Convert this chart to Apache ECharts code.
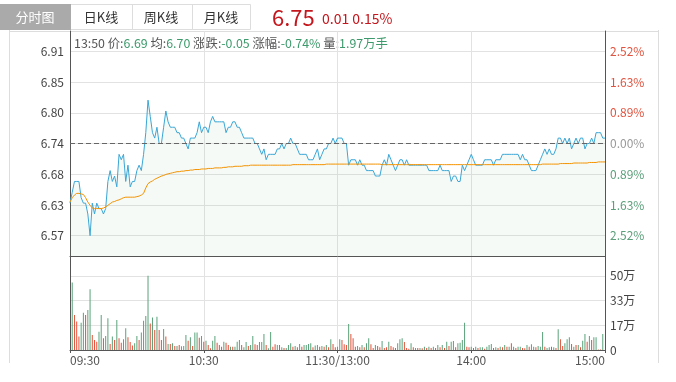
<!DOCTYPE html>
<html><head><meta charset="utf-8">
<script src="https://cdn.jsdelivr.net/npm/echarts@6/dist/echarts.min.js"></script>
<style>html,body{margin:0;padding:0;background:#fff;}#c{width:676px;height:382px;}</style>
</head><body><div id="c"></div>
<script>
const preClose = 6.74;
const tabs = ['分时图', '日K线', '周K线', '月K线'];
const timeLabels = ['09:30', '10:30', '11:30/13:00', '14:00', '15:00'];
const priceTickLabels = ['6.57', '6.63', '6.68', '6.74', '6.80', '6.85', '6.91'];
const pctTickLabels = ['2.52%', '1.63%', '0.89%', '0.00%', '0.89%', '1.63%', '2.52%'];
const priceTickStep = 0.17 / 3;
const priceHalfRange = 0.2075;
const volTickValues = [0, 16.63, 33.27, 49.9];
const volTickLabels = ['0', '17万', '33万', '50万'];
const volAxisMax = 63.2;
const infoIndex = 170, infoTime = '13:50', infoVolume = '1.97万手';

const price = [
6.63,6.65,6.67,6.67,6.67,6.64,6.63,6.63,6.61,6.57,
6.63,6.61,6.63,6.62,6.62,6.61,6.62,6.67,6.69,6.67,
6.68,6.66,6.72,6.71,6.72,6.67,6.70,6.66,6.67,6.67,
6.69,6.70,6.69,6.72,6.76,6.82,6.79,6.76,6.75,6.77,
6.74,6.74,6.77,6.80,6.78,6.77,6.77,6.77,6.76,6.76,
6.75,6.75,6.74,6.73,6.75,6.75,6.75,6.76,6.78,6.76,
6.77,6.77,6.76,6.78,6.79,6.78,6.78,6.78,6.78,6.78,
6.76,6.77,6.77,6.78,6.78,6.77,6.77,6.76,6.75,6.75,
6.75,6.75,6.75,6.74,6.74,6.73,6.72,6.73,6.71,6.72,
6.72,6.72,6.72,6.73,6.73,6.74,6.73,6.74,6.74,6.75,
6.74,6.74,6.73,6.72,6.72,6.72,6.72,6.71,6.71,6.71,
6.72,6.73,6.71,6.72,6.73,6.73,6.74,6.74,6.75,6.74,
6.75,6.75,6.75,6.74,6.74,6.70,6.71,6.71,6.71,6.70,
6.71,6.70,6.70,6.69,6.69,6.69,6.69,6.68,6.68,6.68,
6.70,6.71,6.70,6.72,6.71,6.70,6.69,6.70,6.71,6.71,
6.70,6.71,6.70,6.70,6.70,6.70,6.70,6.70,6.70,6.70,
6.70,6.69,6.69,6.69,6.69,6.69,6.70,6.69,6.69,6.69,
6.69,6.67,6.68,6.68,6.67,6.67,6.70,6.69,6.70,6.71,
6.72,6.71,6.70,6.70,6.70,6.70,6.71,6.71,6.71,6.71,
6.70,6.71,6.71,6.71,6.72,6.72,6.72,6.72,6.72,6.72,
6.72,6.72,6.71,6.72,6.71,6.71,6.70,6.69,6.69,6.69,
6.70,6.71,6.72,6.73,6.72,6.73,6.72,6.72,6.73,6.75,
6.75,6.74,6.75,6.74,6.75,6.73,6.74,6.75,6.74,6.75,
6.75,6.73,6.74,6.74,6.75,6.74,6.76,6.76,6.76,6.75,
6.75];

const avg = [
6.632,6.640,6.645,6.648,6.648,6.647,6.646,6.640,6.632,6.626,
6.621,6.620,6.620,6.620,6.620,6.621,6.623,6.626,6.629,6.632,
6.633,6.635,6.636,6.638,6.640,6.641,6.641,6.641,6.641,6.641,
6.642,6.643,6.645,6.648,6.658,6.666,6.669,6.671,6.674,6.676,
6.678,6.680,6.681,6.683,6.684,6.685,6.686,6.687,6.688,6.688,
6.689,6.689,6.690,6.690,6.691,6.691,6.692,6.692,6.692,6.693,
6.693,6.693,6.694,6.694,6.694,6.695,6.695,6.695,6.695,6.696,
6.696,6.697,6.697,6.697,6.698,6.698,6.698,6.698,6.699,6.699,
6.699,6.700,6.700,6.700,6.700,6.700,6.700,6.700,6.700,6.700,
6.700,6.700,6.700,6.700,6.700,6.700,6.700,6.700,6.700,6.700,
6.701,6.701,6.701,6.701,6.701,6.701,6.701,6.701,6.701,6.701,
6.701,6.701,6.701,6.701,6.701,6.702,6.702,6.702,6.702,6.702,
6.702,6.702,6.702,6.702,6.702,6.702,6.702,6.702,6.702,6.702,
6.702,6.702,6.702,6.702,6.702,6.702,6.702,6.702,6.702,6.702,
6.701,6.701,6.701,6.701,6.701,6.701,6.701,6.701,6.701,6.701,
6.701,6.701,6.701,6.701,6.701,6.701,6.701,6.701,6.701,6.701,
6.701,6.701,6.701,6.701,6.701,6.701,6.701,6.701,6.701,6.701,
6.701,6.701,6.701,6.701,6.701,6.701,6.701,6.701,6.701,6.701,
6.701,6.701,6.701,6.701,6.701,6.701,6.701,6.701,6.701,6.701,
6.701,6.701,6.701,6.701,6.701,6.701,6.701,6.701,6.701,6.701,
6.701,6.701,6.701,6.701,6.701,6.701,6.701,6.701,6.701,6.701,
6.701,6.701,6.702,6.702,6.702,6.702,6.702,6.702,6.702,6.702,
6.703,6.703,6.703,6.703,6.703,6.703,6.704,6.704,6.704,6.704,
6.704,6.704,6.704,6.705,6.705,6.705,6.705,6.706,6.706,6.706,
6.706];

const volume = [
0,45.3,23.6,19.1,9.0,18.4,25.1,23.6,26.9,40.8,
10.1,6.7,5.6,12.3,23.6,7.9,9.4,21.3,4.0,9.0,
6.7,20.2,7.9,4.9,7.2,14.6,8.5,5.4,3.1,4.5,
9.4,6.7,11.7,19.7,22.9,49.9,17.9,21.8,13.5,22.4,
13.5,6.7,14.1,9.0,4.0,4.0,4.5,2.7,2.7,3.4,
2.5,2.7,10.1,6.3,8.5,2.7,11.7,11.7,8.3,9.4,
5.6,6.3,3.4,1.1,6.3,9.4,4.9,3.4,2.2,5.6,
4.9,3.4,2.2,2.2,2.2,5.6,6.7,3.4,1.8,5.4,
2.7,3.4,9.4,3.8,3.4,5.4,5.4,10.8,3.4,1.1,
12.1,2.2,3.8,3.4,3.4,1.8,1.3,1.3,3.4,4.5,
2.2,2.7,1.8,4.0,2.2,3.4,3.4,4.0,4.5,1.8,
3.1,3.4,2.2,2.7,2.2,3.4,1.8,7.2,4.0,1.8,
2.2,7.2,6.7,3.8,3.4,17.5,10.8,7.9,2.2,2.7,
1.8,3.4,1.8,4.5,7.9,3.8,1.3,3.4,2.7,1.8,
6.1,1.3,1.8,5.6,2.7,1.8,1.3,4.5,7.2,7.9,
5.4,1.3,0.9,4.5,1.8,1.3,1.3,1.3,1.1,2.2,
1.3,2.2,1.3,2.2,1.3,3.4,1.8,3.4,1.3,5.6,
2.7,5.6,6.1,1.8,4.5,4.9,6.7,18.4,2.2,1.8,
2.2,1.3,2.2,1.3,1.8,1.8,0.9,2.2,3.4,4.0,
1.3,1.8,1.3,2.2,1.8,3.4,2.2,2.2,4.5,2.2,
1.3,2.2,2.2,1.3,1.1,3.4,2.2,3.8,2.2,1.8,
2.7,2.2,12.1,2.2,1.3,1.8,2.2,1.8,1.3,13.9,
7.2,2.7,4.5,7.2,8.5,4.0,2.2,3.4,3.4,1.8,
6.3,10.8,5.6,9.4,6.7,8.5,8.5,0.4,0.4,10.8,
0];

// 1 = red (up) bar, 0 = green (down) bar
const volUp = [
0,0,1,1,1,0,0,1,0,0,
1,1,1,0,0,1,0,0,1,0,
1,0,1,1,0,0,1,1,1,0,
0,1,0,0,0,0,1,0,1,0,
1,1,0,1,0,1,0,1,0,1,
0,0,0,1,0,1,0,0,1,0,
1,0,1,1,0,0,1,1,1,0,
1,1,0,1,0,0,0,1,0,0,
1,0,0,1,1,0,0,0,1,0,
0,1,1,0,1,0,1,0,0,0,
1,0,1,0,1,0,0,0,0,1,
0,0,1,0,1,0,1,0,1,1,
0,0,1,1,1,0,1,1,1,0,
1,0,1,0,0,1,1,0,1,1,
0,1,1,0,1,1,1,0,0,0,
1,1,1,0,1,0,1,0,1,0,
1,0,1,0,1,0,1,0,1,0,
1,0,0,1,0,0,0,0,1,1,
0,1,0,1,0,0,1,0,0,0,
1,0,1,0,1,0,1,0,1,0,
1,0,0,1,1,0,1,0,0,1,
0,0,0,1,0,0,1,0,1,0,
1,1,0,0,0,1,0,1,0,1,
0,0,1,0,1,0,0,1,1,0,
0];

const FONT = '"Microsoft YaHei","Noto Sans CJK SC","Noto Sans",sans-serif';
const RED = '#e3503a', GREEN = '#5aa27a', AXIS = '#555', GRID = '#e2e2e2';
const priceTickValues = [-3,-2,-1,0,1,2,3].map(k => preClose + k * priceTickStep);
function nearestIdx(arr, v){let b=0;for(let i=1;i<arr.length;i++){if(Math.abs(arr[i]-v)<Math.abs(arr[b]-v))b=i;}return b;}

const last = price[price.length-1];
const chg = last - preClose;
const iP = price[infoIndex], iA = avg[infoIndex], iC = iP - preClose;

const chart = echarts.init(document.getElementById('c'), null, {renderer:'canvas'});
const graphics = [
  {type:'line', shape:{x1:9.5,y1:30,x2:9.5,y2:363}, style:{stroke:'#ddd',lineWidth:1}, silent:true},
  {type:'line', shape:{x1:658.5,y1:30,x2:658.5,y2:363}, style:{stroke:'#ddd',lineWidth:1}, silent:true},
  {type:'line', shape:{x1:9.5,y1:31.5,x2:658.5,y2:31.5}, style:{stroke:'#ddd',lineWidth:1}, silent:true},
  {type:'rect', shape:{x:0.5,y:4.5,width:250,height:25}, style:{fill:'#fff',stroke:'#ddd',lineWidth:1}, silent:true},
  {type:'rect', shape:{x:0,y:4,width:71,height:26}, style:{fill:'#aaaaaa'}, silent:true},
  {type:'line', shape:{x1:132.5,y1:4,x2:132.5,y2:30}, style:{stroke:'#ddd',lineWidth:1}, silent:true},
  {type:'line', shape:{x1:192.5,y1:4,x2:192.5,y2:30}, style:{stroke:'#ddd',lineWidth:1}, silent:true},
];
const tabCenters = [35, 101, 161, 221];
tabs.forEach((t,i)=>graphics.push({type:'text', x:tabCenters[i], y:17, silent:true,
  style:{text:t, fill: i===0?'#fff':'#333', font:'13px '+FONT, align:'center', verticalAlign:'middle'}}));
graphics.push({type:'text', x:272, y:18, silent:true, style:{text:last.toFixed(2), fill:'#c4161c', font:'22px '+FONT, verticalAlign:'middle'}});
graphics.push({type:'text', x:322, y:19, silent:true, style:{text:chg.toFixed(2)+' '+(chg/preClose*100).toFixed(2)+'%', fill:'#c4161c', font:'14px '+FONT, verticalAlign:'middle'}});
graphics.push({type:'text', x:74, y:43, silent:true, style:{
  text:'{g|'+infoTime+' 价:}{v|'+iP.toFixed(2)+'}{g| 均:}{v|'+iA.toFixed(2)+'}{g| 涨跌:}{v|'+iC.toFixed(2)+'}{g| 涨幅:}{v|'+(iC/preClose*100).toFixed(2)+'%}{g| 量:}{v|'+infoVolume+'}',
  font:'12.4px '+FONT, verticalAlign:'middle',
  rich:{g:{fill:'#555',font:'12.4px '+FONT}, v:{fill:'#3d9a6c',font:'12.4px '+FONT}}}});

const option = {
  animation:false,
  textStyle:{fontFamily:FONT},
  grid:[{left:70,top:31,width:535,height:225},{left:70,top:256,width:535,height:94}],
  xAxis:[
    {gridIndex:0,type:'value',min:0,max:240,interval:60,
     axisLine:{show:true,lineStyle:{color:AXIS}},axisTick:{show:false},axisLabel:{show:false},
     splitLine:{show:true,lineStyle:{color:GRID}}},
    {gridIndex:1,type:'value',min:0,max:240,interval:60,
     axisLine:{show:true,lineStyle:{color:AXIS}},axisTick:{show:true,length:3,lineStyle:{color:AXIS}},
     axisLabel:{show:true,color:'#555',fontSize:12,margin:4,fontFamily:FONT,
       formatter:v=>timeLabels[Math.round(v/60)]||'', alignMinLabel:'left', alignMaxLabel:'right'},
     splitLine:{show:true,lineStyle:{color:GRID}}}
  ],
  yAxis:[
    {gridIndex:0,type:'value',position:'left',min:preClose-priceHalfRange,max:preClose+priceHalfRange,
     axisLine:{show:true,lineStyle:{color:AXIS}},axisTick:{show:false,customValues:priceTickValues},
     axisLabel:{show:true,customValues:priceTickValues,color:'#444',fontSize:12,margin:6,fontFamily:FONT,
       formatter:v=>priceTickLabels[nearestIdx(priceTickValues,v)]},
     splitLine:{show:true,lineStyle:{color:GRID}}},
    {gridIndex:0,type:'value',position:'right',min:preClose-priceHalfRange,max:preClose+priceHalfRange,
     axisLine:{show:true,lineStyle:{color:AXIS}},axisTick:{show:false,customValues:priceTickValues},
     axisLabel:{show:true,customValues:priceTickValues,fontSize:12,margin:5,fontFamily:FONT,
       formatter:v=>pctTickLabels[nearestIdx(priceTickValues,v)],
       color:v=>{const i=nearestIdx(priceTickValues,Number(v));return i>3?'#e0533f':(i<3?'#5a9e7a':'#999');}},
     splitLine:{show:false}},
    {gridIndex:1,type:'value',position:'left',min:0,max:volAxisMax,
     axisLine:{show:true,lineStyle:{color:AXIS}},axisTick:{show:false,customValues:volTickValues},
     axisLabel:{show:false,customValues:volTickValues},
     splitLine:{show:true,lineStyle:{color:GRID}}},
    {gridIndex:1,type:'value',position:'right',min:0,max:volAxisMax,
     axisLine:{show:true,lineStyle:{color:AXIS}},axisTick:{show:false,customValues:volTickValues},
     axisLabel:{show:true,customValues:volTickValues,color:'#444',fontSize:12,margin:5,fontFamily:FONT,
       formatter:v=>volTickLabels[nearestIdx(volTickValues,v)]},
     splitLine:{show:false}}
  ],
  series:[
    {type:'line',xAxisIndex:0,yAxisIndex:0,data:price.map((p,i)=>[i,p]),showSymbol:false,
     lineStyle:{color:'#3aa6d6',width:1},areaStyle:{color:'rgba(110,180,130,0.10)',origin:'start'},
     markLine:{silent:true,symbol:'none',label:{show:false},
       lineStyle:{color:'#666',type:[5,3],width:1},data:[{yAxis:preClose}]},z:3},
    {type:'line',xAxisIndex:0,yAxisIndex:0,data:avg.map((p,i)=>[i,p]),showSymbol:false,
     lineStyle:{color:'#f39200',width:1},z:4},
    {type:'bar',xAxisIndex:1,yAxisIndex:2,barWidth:1,
     data:volume.map((v,i)=>({value:[i,v],itemStyle:{color:volUp[i]?RED:GREEN}}))}
  ],
  graphic:graphics
};
chart.setOption(option);
</script></body></html>
